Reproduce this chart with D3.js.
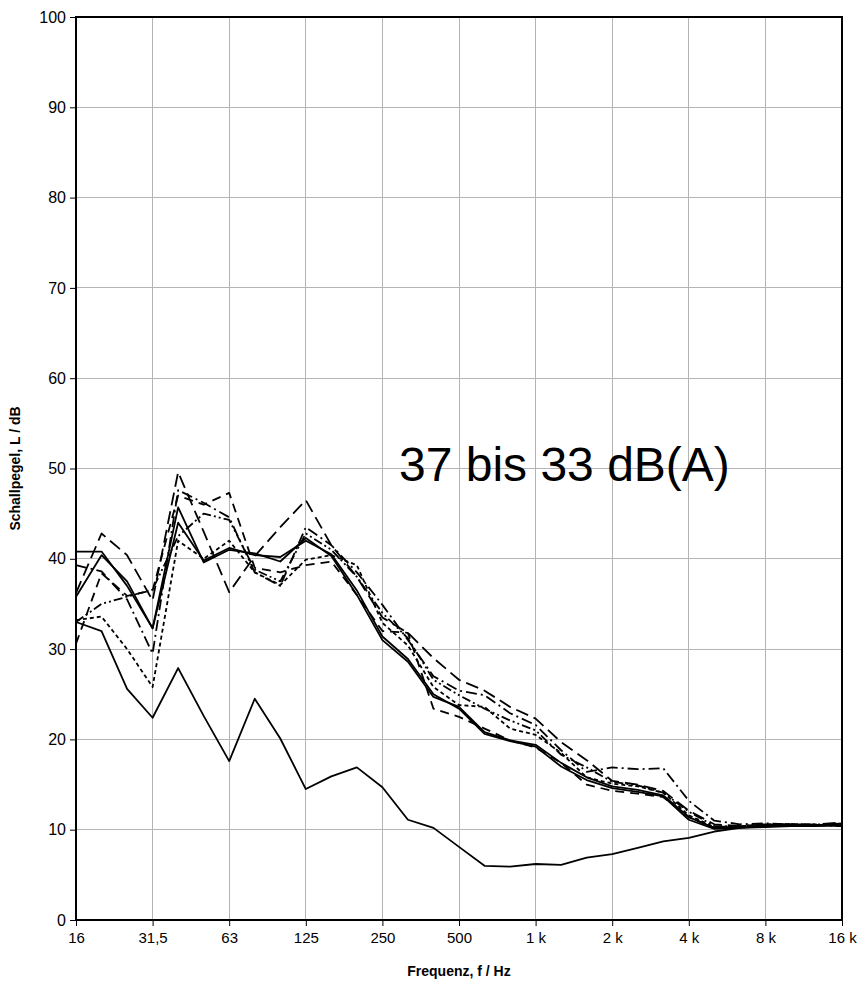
<!DOCTYPE html>
<html>
<head>
<meta charset="utf-8">
<script src="https://cdn.jsdelivr.net/npm/d3@7"></script>
<style>
  html, body { margin: 0; padding: 0; background: #fff; }
  svg { display: block; font-family: "Liberation Sans", Arial, sans-serif; }
</style>
</head>
<body>
<svg id="chart" width="865" height="987"></svg>
<script>
// Third-octave band centre frequencies (labels as printed)
const bands = ["16","20","25","31,5","40","50","63","80","100","125","160","200","250","315","400","500","630","800",
  "1 k","1,25 k","1,6 k","2 k","2,5 k","3,15 k","4 k","5 k","6,3 k","8 k","10 k","12,5 k","16 k"];
const xTicks = ["16","31,5","63","125","250","500","1 k","2 k","4 k","8 k","16 k"];
const yTicks = [0,10,20,30,40,50,60,70,80,90,100];

// Sound pressure levels per band, dB
const m1 = [40.8,40.8,37.0,32.3,45.7,39.6,41.0,40.6,39.7,42.3,40.3,36.0,31.0,28.6,24.7,23.6,20.8,19.9,19.4,17.4,15.8,14.8,14.4,13.8,11.4,10.2,10.3,10.4,10.5,10.5,10.7];
const m2 = [35.8,40.4,37.5,32.3,44.0,39.8,41.2,40.4,40.2,42.0,40.5,36.5,31.4,28.9,25.0,23.4,20.6,19.8,19.2,17.0,15.5,14.6,14.2,13.7,11.1,10.1,10.2,10.3,10.4,10.4,10.5];
const m3 = [36.2,42.8,40.4,35.4,49.6,43.0,36.3,40.3,43.5,46.5,41.5,38.0,33.5,31.8,29.0,26.6,25.4,23.6,22.3,19.7,17.7,15.4,15.0,14.3,12.1,10.6,10.4,10.6,10.6,10.6,10.8];
const m4 = [30.6,38.4,35.9,36.5,47.0,46.0,47.3,39.0,38.5,39.3,39.7,36.0,32.0,31.8,23.4,22.5,21.2,19.9,19.1,17.4,15.0,14.3,14.0,13.6,11.4,10.2,10.3,10.5,10.6,10.5,10.6];
const m5 = [39.3,38.6,35.5,29.5,47.6,46.2,44.6,38.5,37.0,43.5,41.5,38.5,34.9,31.0,27.0,25.4,24.9,22.9,21.6,18.8,16.4,16.9,16.7,16.8,13.2,11.0,10.6,10.7,10.6,10.5,10.4];
const m6 = [33.0,35.0,35.8,36.6,42.5,45.0,44.3,38.8,37.5,42.8,41.0,38.0,34.0,31.2,26.6,24.9,23.4,22.1,21.0,18.3,16.9,15.3,14.9,14.1,12.0,10.4,10.4,10.6,10.6,10.6,10.5];
const m7 = [33.2,33.6,30.0,25.8,42.0,40.0,42.0,38.5,37.1,39.9,40.4,39.3,32.9,30.4,25.8,23.8,23.6,21.2,20.5,18.5,15.8,15.1,14.8,14.1,11.6,10.3,10.4,10.5,10.6,10.5,10.6];
const background = [33.0,32.0,25.6,22.4,27.9,22.6,17.6,24.5,20.1,14.5,15.9,16.9,14.7,11.1,10.2,8.1,6.0,5.9,6.2,6.1,6.9,7.3,8.0,8.7,9.1,9.8,10.2,10.4,10.5,10.5,10.4];

const series = [
  { values: m1, dash: null },
  { values: m2, dash: null },
  { values: m3, dash: "13,6" },
  { values: m4, dash: "9,6" },
  { values: m5, dash: "11,4,2,4" },
  { values: m6, dash: "9,3,2,3,2,3" },
  { values: m7, dash: "4,3" },
  { values: background, dash: null }
];

const svg = d3.select("#chart");
const L = 76, R = 842, T = 17, B = 920;

const x = d3.scalePoint().domain(bands).range([L, R]);
const y = d3.scaleLinear().domain([0, 100]).range([B, T]);

// grid
const grid = svg.append("g").attr("stroke", "#b4b4b4").attr("stroke-width", 1).attr("shape-rendering", "crispEdges");
grid.selectAll(".gx").data(xTicks).join("line")
  .attr("x1", d => x(d)).attr("x2", d => x(d)).attr("y1", T).attr("y2", B);
grid.selectAll(".gy").data(yTicks).join("line")
  .attr("x1", L).attr("x2", R).attr("y1", d => y(d)).attr("y2", d => y(d));

// data lines
const line = d3.line().x((d, i) => x(bands[i])).y(d => y(d));
svg.append("g").selectAll("path").data(series).join("path")
  .attr("d", d => line(d.values))
  .attr("fill", "none")
  .attr("stroke", "#000")
  .attr("stroke-width", 1.8)
  .attr("stroke-linejoin", "round")
  .attr("stroke-dasharray", d => d.dash);

// axes
const xAxis = svg.append("g").attr("transform", `translate(0,${B})`)
  .call(d3.axisBottom(x).tickValues(xTicks).tickSize(6).tickPadding(6));
xAxis.select(".domain").remove();
xAxis.selectAll("text").attr("font-size", 15).attr("fill", "#000").attr("font-family", "Liberation Sans, Arial, sans-serif");
xAxis.selectAll("line").attr("stroke", "#000");

const yAxis = svg.append("g").attr("transform", `translate(${L},0)`)
  .call(d3.axisLeft(y).tickValues(yTicks).tickSize(6).tickPadding(4));
yAxis.select(".domain").remove();
yAxis.selectAll("text").attr("font-size", 16).attr("fill", "#000").attr("font-family", "Liberation Sans, Arial, sans-serif");
yAxis.selectAll("line").attr("stroke", "#000");

// frame
svg.append("rect").attr("x", L).attr("y", T).attr("width", R - L).attr("height", B - T)
  .attr("fill", "none").attr("stroke", "#000").attr("stroke-width", 2);

// titles
svg.append("text").attr("x", (L + R) / 2).attr("y", 976).attr("text-anchor", "middle")
  .attr("font-size", 14).attr("font-weight", "bold").text("Frequenz, f / Hz");
svg.append("text").attr("transform", `translate(20,${(T + B) / 2}) rotate(-90)`).attr("text-anchor", "middle")
  .attr("font-size", 14).attr("font-weight", "bold").text("Schallpegel, L / dB");

svg.append("text").attr("x", 399).attr("y", 481).attr("font-size", 48).text("37 bis 33 dB(A)");
</script>
</body>
</html>
